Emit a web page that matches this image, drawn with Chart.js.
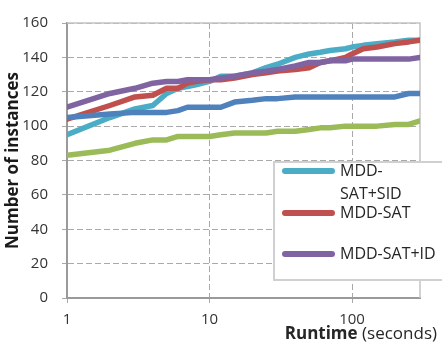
<!DOCTYPE html>
<html>
<head>
<meta charset="utf-8">
<script src="https://cdn.jsdelivr.net/npm/chart.js@4.4.1/dist/chart.umd.min.js"></script>
<style>
    html, body { margin: 0; padding: 0; background: #fff; overflow: hidden; }
    #wrap { position: relative; width: 442px; height: 348px; font-family: "Open Sans", sans-serif; }
    #x-title { position: absolute; right: 5px; top: 321px; font-size: 17px; color: #262626; white-space: nowrap; }
    #legend { position: absolute; left: 273px; top: 161px; width: 190px; height: 120px;
              border: 2px solid #d0d0d0; background: #fff; box-sizing: border-box; }
    .item { position: absolute; left: 7px; display: flex; align-items: flex-start; }
    .swatch { width: 53px; height: 6px; border-radius: 3px; margin-top: 9px; margin-right: 5px; }
    .label { max-width: 100px; font-size: 16px; line-height: 23px; color: #262626; }
</style>
</head>
<body>
<div id="wrap">
    <canvas id="chart" width="442" height="348"></canvas>
    <div id="x-title"><b>Runtime</b> (seconds)</div>
    <div id="legend"></div>
</div>
<script>
// runtime in seconds (log axis)
const runtimes = [1, 2, 3, 4, 5, 6, 7, 8, 10, 12, 15, 20, 25, 30, 40, 50, 60, 70, 90, 100, 120, 150, 200, 250, 300];
const xTickValues = [1, 10, 100];

// solved instances per solver
const sidSolved = [95, 105, 110, 112, 119, 122, 123, 124, 126, 129, 129, 131, 134, 136, 140, 142, 143, 144, 145, 146, 147, 148, 149, 150, 150];
const satSolved = [104, 112, 117, 118, 122, 122, 125, 126, 127, 127, 128, 130, 131, 132, 133, 134, 137, 138, 140, 142, 145, 146, 148, 149, 150];
const idSolved = [111, 119, 122, 125, 126, 126, 127, 127, 127, 128, 129, 131, 132, 133, 135, 137, 137, 138, 138, 139, 139, 139, 139, 139, 140];
const icbsSolved = [105, 107, 108, 108, 108, 109, 111, 111, 111, 111, 114, 115, 116, 116, 117, 117, 117, 117, 117, 117, 117, 117, 117, 119, 119];
const ictsSolved = [83, 86, 90, 92, 92, 94, 94, 94, 94, 95, 96, 96, 96, 97, 97, 98, 99, 99, 100, 100, 100, 100, 101, 101, 103];

const seriesNames = ['MDD-SAT+SID', 'MDD-SAT', 'MDD-SAT+ID', 'ICBS', 'ICTS'];
const seriesValues = [sidSolved, satSolved, idSolved, icbsSolved, ictsSolved];
const seriesColors = ['#4bacc6', '#c0504d', '#8064a2', '#4f81bd', '#9bbb59'];
const drawOrder = [5, 4, 1, 2, 3];   // lower = drawn on top
const legendCount = 3;

const gridGray = '#a9a9a9';

// light frame around the plot area
const plotFrame = {
    id: 'plotFrame',
    beforeDatasetsDraw(chart) {
        const a = chart.chartArea;
        const ctx = chart.ctx;
        ctx.save();
        ctx.strokeStyle = '#c4c4c4';
        ctx.lineWidth = 1.5;
        ctx.beginPath();
        ctx.moveTo(a.left, a.top);
        ctx.lineTo(a.right, a.top);
        ctx.lineTo(a.right, a.bottom);
        ctx.stroke();
        ctx.restore();
    }
};

const datasets = seriesNames.map((name, i) => ({
    label: name,
    data: runtimes.map((t, j) => ({ x: t, y: seriesValues[i][j] })),
    borderColor: seriesColors[i],
    borderWidth: 5.5,
    borderCapStyle: 'round',
    borderJoinStyle: 'round',
    pointRadius: 0,
    tension: 0,
    order: drawOrder[i]
}));

new Chart(document.getElementById('chart').getContext('2d'), {
    type: 'line',
    data: { datasets: datasets },
    options: {
        responsive: false,
        animation: false,
        layout: { padding: { top: 14, right: 22, left: 0, bottom: 0 } },
        plugins: {
            legend: { display: false },
            tooltip: { enabled: false }
        },
        scales: {
            x: {
                type: 'logarithmic',
                min: 1,
                max: 300,
                afterBuildTicks: scale => {
                    scale.ticks = xTickValues.map(v => ({ value: v }));
                },
                afterFit: scale => { scale.height = 50; },
                grid: { color: gridGray, tickLength: 5, tickColor: gridGray },
                border: { color: '#9a9a9a', width: 2, dash: [6, 3] },
                ticks: {
                    padding: 8,
                    maxRotation: 0,
                    autoSkip: false,
                    color: '#333',
                    font: { family: 'Open Sans', size: 15 },
                    callback: v => String(v)
                }
            },
            y: {
                min: 0,
                max: 160,
                afterFit: scale => { scale.width = 67; },
                grid: { color: gridGray, tickLength: 5, tickColor: gridGray },
                border: { color: '#9a9a9a', width: 2, dash: [6, 3] },
                ticks: {
                    stepSize: 20,
                    padding: 14,
                    color: '#333',
                    font: { family: 'Open Sans', size: 15 }
                },
                title: {
                    display: true,
                    text: 'Number of instances',
                    color: '#1a1a1a',
                    padding: { top: 3, bottom: 0 },
                    font: { family: 'Open Sans', size: 17, weight: 'bold' }
                }
            }
        }
    },
    plugins: [plotFrame]
});

// legend box (only the first entries fit inside it)
const legendBox = document.getElementById('legend');
for (let i = 0; i < legendCount; i++) {
    const item = document.createElement('div');
    item.className = 'item';
    item.style.top = (-4 + i * 41.5) + 'px';
    item.innerHTML = '<div class="swatch" style="background:' + seriesColors[i] + '"></div>' +
        '<div class="label">' + seriesNames[i] + '</div>';
    legendBox.appendChild(item);
}
</script>
</body>
</html>
